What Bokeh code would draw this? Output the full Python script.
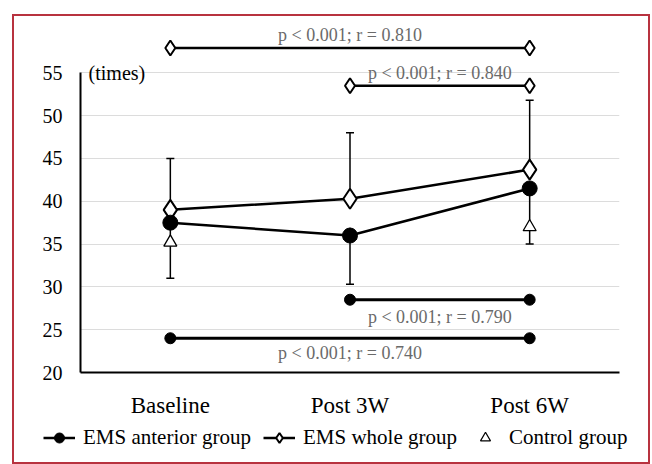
from bokeh.plotting import figure
from bokeh.layouts import column
from bokeh.models import FactorRange, Range1d, FixedTicker, Legend, LegendItem
from bokeh.core.properties import value
from bokeh.embed import file_html
from bokeh.resources import INLINE

timepoints = ["Baseline", "Post 3W", "Post 6W"]
anterior_mean = [37.5, 36.0, 41.5]
anterior_lower = [31.0, 30.3, 35.0]
whole_mean = [39.0, 40.3, 43.7]
whole_upper = [45.0, 48.0, 51.8]
control_mean = [35.2, 36.0, 37.0]
y_ticks = [20, 25, 30, 35, 40, 45, 50, 55]

whole_br_start = ["Baseline", "Post 3W"]
whole_br_end = ["Post 6W", "Post 6W"]
whole_br_y = [57.9, 53.5]
whole_labels = ["p < 0.001; r = 0.810", "p < 0.001; r = 0.840"]
whole_label_y = [59.4, 55.0]

ant_br_start = ["Post 3W", "Baseline"]
ant_br_end = ["Post 6W", "Post 6W"]
ant_br_y = [28.5, 24.0]
ant_labels = ["p < 0.001; r = 0.790", "p < 0.001; r = 0.740"]
ant_label_y = [26.5, 22.3]

legend_labels = ["EMS anterior group", "EMS whole group", "Control group"]

SERIF = "Liberation Serif"

p = figure(x_range=FactorRange(*timepoints, range_padding=0),
           y_range=Range1d(20, 61),
           width=634, height=404, output_backend="svg", toolbar_location=None,
           min_border_left=66, min_border_right=29, min_border_top=5, min_border_bottom=45)
p.outline_line_color = None
p.background_fill_color = "white"
p.border_fill_color = "white"

p.xgrid.grid_line_color = None
p.ygrid.grid_line_color = "#dcdcdc"
p.ygrid.grid_line_width = 1
p.yaxis.ticker = FixedTicker(ticks=y_ticks)
p.yaxis.bounds = (20, 55)
for ax in (p.xaxis, p.yaxis):
    ax.axis_line_color = "black"
    ax.axis_line_width = 2
    ax.major_tick_line_color = None
    ax.minor_tick_line_color = None
    ax.major_label_text_font = SERIF
    ax.major_label_text_color = "black"
p.yaxis.major_label_text_font_size = "20px"
p.yaxis.major_label_standoff = 12
p.xaxis.major_label_text_font_size = "23px"
p.xaxis.major_label_standoff = 14


def idx(c):
    return timepoints.index(c) + 0.5

# error bars
p.segment(x0=timepoints, y0=whole_mean, x1=timepoints, y1=whole_upper, line_color="black", line_width=1.5)
p.segment(x0=timepoints, y0=anterior_mean, x1=timepoints, y1=anterior_lower, line_color="black", line_width=1.5)
p.scatter(x=timepoints, y=whole_upper, marker="dash", size=8, line_color="black", line_width=1.5)
p.scatter(x=timepoints, y=anterior_lower, marker="dash", size=8, line_color="black", line_width=1.5)

# control
p.scatter(x=timepoints, y=control_mean, marker="triangle", size=13, fill_color="white",
          line_color="black", line_width=1.3)

# EMS whole
p.line(x=timepoints, y=whole_mean, line_color="black", line_width=2.5)
p.scatter(x=timepoints, y=whole_mean, marker="diamond", size=20, fill_color="white",
          line_color="black", line_width=2)
# EMS anterior
p.line(x=timepoints, y=anterior_mean, line_color="black", line_width=2.5)
p.scatter(x=timepoints, y=anterior_mean, marker="circle", size=15, fill_color="black",
          line_color="black")

# brackets
wbx0 = [idx(c) for c in whole_br_start]
wbx1 = [idx(c) for c in whole_br_end]
p.segment(x0=wbx0, y0=whole_br_y, x1=wbx1, y1=whole_br_y, line_color="black", line_width=2.5)
p.scatter(x=wbx0 + wbx1, y=whole_br_y + whole_br_y, marker="diamond", size=15, fill_color="white",
          line_color="black", line_width=2)
abx0 = [idx(c) for c in ant_br_start]
abx1 = [idx(c) for c in ant_br_end]
p.segment(x0=abx0, y0=ant_br_y, x1=abx1, y1=ant_br_y, line_color="black", line_width=3)
p.scatter(x=abx0 + abx1, y=ant_br_y + ant_br_y, marker="circle", size=11, fill_color="black",
          line_color="black")

p.text(x=[(a + b) / 2 for a, b in zip(wbx0, wbx1)], y=whole_label_y, text=whole_labels,
       text_font=value(SERIF), text_font_size="18px", text_color="#6a6a6a",
       text_align="center", text_baseline="middle")
p.text(x=[(a + b) / 2 for a, b in zip(abx0, abx1)], y=ant_label_y, text=ant_labels,
       text_font=value(SERIF), text_font_size="18px", text_color="#6a6a6a",
       text_align="center", text_baseline="middle")

p.text(x=[0.045], y=[55], text=["(times)"], text_font=value(SERIF), text_font_size="20px",
       text_color="black", text_align="left", text_baseline="middle")

# legend strip (proxy renderers sit outside the visible range; only their legend glyphs show)
lg = figure(width=634, height=42, output_backend="svg", toolbar_location=None,
            x_axis_type=None, y_axis_type=None, x_range=Range1d(0, 1), y_range=Range1d(0, 1),
            min_border=0)
lg.frame_align = False
lg.outline_line_color = None
lg.grid.visible = False
proxy_x, proxy_y = [-5], [-5]
la = lg.line(x=proxy_x, y=proxy_y, line_color="black", line_width=2.5)
lap = lg.scatter(x=proxy_x, y=proxy_y, marker="circle", size=15, fill_color="black", line_color="black")
lw = lg.line(x=proxy_x, y=proxy_y, line_color="black", line_width=2.5)
lwp = lg.scatter(x=proxy_x, y=proxy_y, marker="diamond", size=15, fill_color="white",
                 line_color="black", line_width=2)
lc = lg.scatter(x=proxy_x, y=proxy_y, marker="triangle", size=10, fill_color="white",
                line_color="black", line_width=1.2)

legend = Legend(items=[
    LegendItem(label=legend_labels[0], renderers=[la, lap]),
    LegendItem(label=legend_labels[1], renderers=[lw, lwp]),
    LegendItem(label=legend_labels[2], renderers=[lc]),
], orientation="horizontal", location=(29, 12))
legend.label_text_font = SERIF
legend.label_text_font_size = "21px"
legend.label_text_color = "black"
legend.glyph_width = 32
legend.glyph_height = 25
legend.label_height = 22
legend.label_standoff = 8
legend.spacing = 12
legend.padding = 2
legend.margin = 0
legend.border_line_color = None
legend.background_fill_alpha = 0
lg.add_layout(legend)

layout = column(p, lg, spacing=0)
layout.margin = (14, 0, 0, 12)
layout.styles = {"border": "2px solid #b8323f", "background-color": "white"}

open("out.html", "w").write(file_html(layout, INLINE))
